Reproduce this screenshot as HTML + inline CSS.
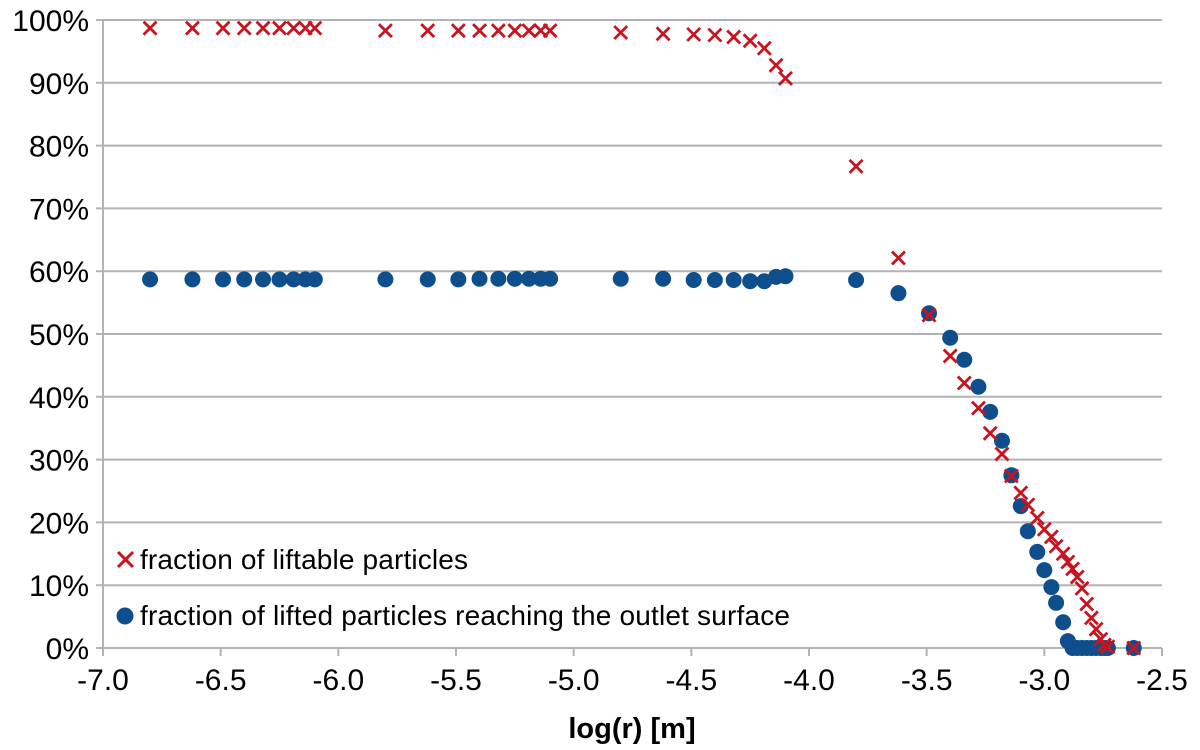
<!DOCTYPE html>
<html><head><meta charset="utf-8"><style>
html,body{margin:0;padding:0;background:#fff;}
svg{display:block;font-family:"Liberation Sans",sans-serif;}
</style></head><body>
<svg id="chart" width="1200" height="750" viewBox="0 0 1200 750" xmlns="http://www.w3.org/2000/svg">
<g id="grid"></g>
<g id="axes"></g>
<g id="marks"></g>
<text x="632" y="738" text-anchor="middle" font-size="29" font-weight="bold" fill="#000">log(r) [m]</text>
<g>
 <g>
  <path d="M118,552 L133,567 M133,552 L118,567" stroke="#c9141f" stroke-width="3"/>
  <text x="140" y="569" font-size="28" fill="#000" textLength="328">fraction of liftable particles</text>
 </g>
 <g>
  <circle cx="125" cy="616" r="8.5" fill="#0e4e8c"/>
  <text x="140" y="625" font-size="28" fill="#000" textLength="650">fraction of lifted particles reaching the outlet surface</text>
 </g>
</g>
</svg>
<script>
const xValues = [-6.80,-6.62,-6.49,-6.40,-6.32,-6.25,-6.19,-6.14,-6.10,
 -5.80,-5.62,-5.49,-5.40,-5.32,-5.25,-5.19,-5.14,-5.10,
 -4.80,-4.62,-4.49,-4.40,-4.32,-4.25,-4.19,-4.14,-4.10,
 -3.80,-3.62,-3.49,-3.40,-3.34,-3.28,-3.23,-3.18,-3.14,
 -3.10,-3.07,-3.03,-3.00,-2.97,-2.95,-2.92,-2.90,-2.88,-2.86,-2.84,-2.82,-2.80,-2.78,-2.76,-2.745,-2.73,-2.62];
const liftable = [98.7,98.7,98.7,98.7,98.7,98.7,98.7,98.7,98.7,
 98.3,98.3,98.3,98.3,98.3,98.3,98.3,98.3,98.3,
 98.0,97.8,97.7,97.6,97.3,96.7,95.5,92.8,90.7,
 76.7,62.1,53.0,46.5,42.2,38.2,34.2,30.9,27.4,
 24.7,22.8,20.7,18.9,17.7,16.2,15.0,13.7,12.6,11.3,9.5,7.0,4.8,3.0,1.4,0.5,0.2,0];
const lifted = [58.7,58.7,58.7,58.7,58.7,58.7,58.7,58.7,58.7,
 58.7,58.7,58.7,58.8,58.8,58.8,58.8,58.8,58.8,
 58.8,58.8,58.6,58.6,58.6,58.4,58.4,59.1,59.2,
 58.6,56.5,53.3,49.4,45.9,41.6,37.6,33.0,27.5,
 22.6,18.6,15.3,12.4,9.7,7.2,4.1,1.1,0,0,0,0,0,0,0,0,0,0];
const xTicks = [-7.0,-6.5,-6.0,-5.5,-5.0,-4.5,-4.0,-3.5,-3.0,-2.5];
const yTicks = [0,10,20,30,40,50,60,70,80,90,100];

const L=103,R=1162,T=20,B=648;
const xs=v=>L+(v+7)/4.5*(R-L);
const ys=v=>B-v/100*(B-T);
const NS="http://www.w3.org/2000/svg";
function mk(tag,attrs,parent){const e=document.createElementNS(NS,tag);for(const k in attrs)e.setAttribute(k,attrs[k]);parent.appendChild(e);return e;}
const grid=document.getElementById('grid'),axes=document.getElementById('axes'),marks=document.getElementById('marks');
yTicks.forEach(t=>{
 const y=ys(t);
 const g=mk('line',{x1:96,x2:R,y1:y,y2:y,stroke:'#b3b3b3','stroke-width':2},grid);
 
 
 const tx=mk('text',{x:89,y:y+11,'text-anchor':'end','font-size':30,fill:'#000'},axes);
 tx.textContent=t+'%';
 
 
});
const ya=mk('line',{x1:L,x2:L,y1:T,y2:B+8,stroke:'#b3b3b3','stroke-width':2},axes);


xTicks.forEach(t=>{
 const x=xs(t);
 const tk=mk('line',{x1:x,x2:x,y1:B,y2:B+8,stroke:'#b3b3b3','stroke-width':2},axes);
 
 
 const tx=mk('text',{x:x,y:690,'text-anchor':'middle','font-size':30,fill:'#000'},axes);
 tx.textContent=t.toFixed(1);
 
 
});
xValues.forEach((v,i)=>{
 const c=mk('circle',{cx:xs(v),cy:ys(lifted[i]),r:8,fill:'#0e4e8c'},marks);
 
 
});
xValues.forEach((v,i)=>{
 const x=xs(v),y=ys(liftable[i]),s=6.5;
 const p=mk('path',{d:`M${x-s},${y-s}L${x+s},${y+s}M${x+s},${y-s}L${x-s},${y+s}`,stroke:'#c9141f','stroke-width':2.8},marks);
 
 
});
</script>
</body></html>
